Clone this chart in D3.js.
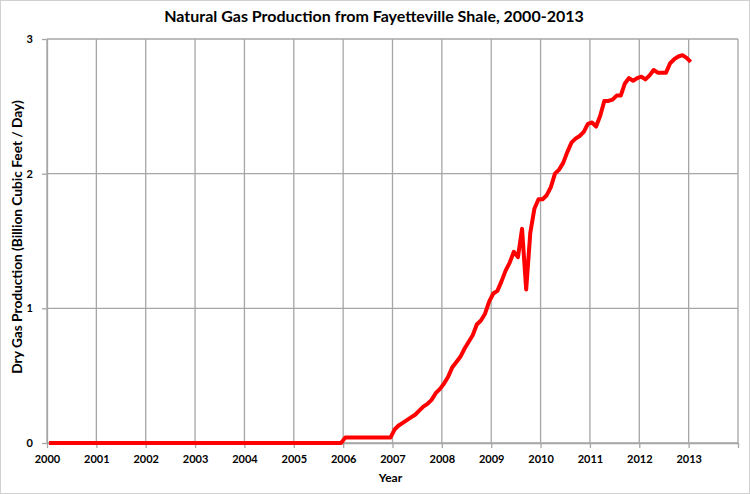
<!DOCTYPE html>
<html>
<head>
<meta charset="utf-8">
<script src="https://cdn.jsdelivr.net/npm/d3@7"></script>
<style>
  body { margin: 0; background: #fff; }
  svg { display: block; font-family: Lato, "Open Sans", sans-serif; }
</style>
</head>
<body>
<svg id="chart" width="750" height="494"></svg>
<script>
// Fayetteville Shale dry gas production -- line chart

var yearTicks = [2000, 2001, 2002, 2003, 2004, 2005, 2006, 2007, 2008, 2009, 2010, 2011, 2012, 2013];
var valueTicks = [0, 1, 2, 3];

// monthly points, "YYYY-MM"
var months = [
  "2000-01", "2005-12", "2006-01", "2006-12",
  "2007-01", "2007-02", "2007-03", "2007-04", "2007-05", "2007-06",
  "2007-07", "2007-08", "2007-09", "2007-10", "2007-11", "2007-12",
  "2008-01", "2008-02", "2008-03", "2008-04", "2008-05", "2008-06",
  "2008-07", "2008-08", "2008-09", "2008-10", "2008-11", "2008-12",
  "2009-01", "2009-02", "2009-03", "2009-04", "2009-05", "2009-06",
  "2009-07", "2009-08", "2009-09", "2009-10", "2009-11", "2009-12",
  "2010-01", "2010-02", "2010-03", "2010-04", "2010-05", "2010-06",
  "2010-07", "2010-08", "2010-09", "2010-10", "2010-11", "2010-12",
  "2011-01", "2011-02", "2011-03", "2011-04", "2011-05", "2011-06",
  "2011-07", "2011-08", "2011-09", "2011-10", "2011-11", "2011-12",
  "2012-01", "2012-02", "2012-03", "2012-04", "2012-05", "2012-06",
  "2012-07", "2012-08", "2012-09", "2012-10", "2012-11", "2012-12",
  "2013-01"
];

// billion cubic feet / day
var production = [
  0, 0, 0.04, 0.04,
  0.10, 0.13, 0.15, 0.17, 0.19, 0.21,
  0.24, 0.27, 0.29, 0.32, 0.37, 0.40,
  0.44, 0.49, 0.56, 0.60, 0.64, 0.70,
  0.75, 0.80, 0.88, 0.91, 0.96, 1.05,
  1.11, 1.13, 1.20, 1.28, 1.34, 1.42,
  1.38, 1.59, 1.14, 1.56, 1.74, 1.81,
  1.81, 1.84, 1.90, 2.00, 2.03, 2.08,
  2.16, 2.23, 2.26, 2.28, 2.31, 2.37,
  2.38, 2.35, 2.43, 2.54, 2.54, 2.55,
  2.58, 2.58, 2.67, 2.71, 2.69, 2.71,
  2.72, 2.70, 2.73, 2.77, 2.75, 2.75,
  2.75, 2.82, 2.85, 2.87, 2.88, 2.86,
  2.83
];

var svg = d3.select("#chart");
var margin = {top: 39, right: 12, bottom: 51, left: 47};
var width = 750 - margin.left - margin.right;
var height = 494 - margin.top - margin.bottom;
var gridColor = "#a6a6a6";

// outer chart frame
svg.append("rect")
  .attr("x", 0.5).attr("y", 0.5)
  .attr("width", 749).attr("height", 493)
  .attr("fill", "none").attr("stroke", "#d0d0d0");

var g = svg.append("g").attr("transform", "translate(" + margin.left + "," + margin.top + ")");

var x = d3.scaleLinear().domain([2000, 2014]).range([0, width]);
var y = d3.scaleLinear().domain([0, 3]).range([height, 0]);

// mid-month position
var toYear = function (s) {
  var p = s.split("-");
  return +p[0] + (+p[1] - 0.5) / 12;
};
var data = months.map(function (m, i) { return {t: toYear(m), v: production[i]}; });

// grid
g.append("g").selectAll("line").data(yearTicks.concat([2014]))
  .join("line")
  .attr("x1", function (d) { return x(d); }).attr("x2", function (d) { return x(d); })
  .attr("y1", 0).attr("y2", height)
  .attr("stroke", gridColor).attr("stroke-width", 1.3);
g.append("g").selectAll("line").data(valueTicks)
  .join("line")
  .attr("x1", 0).attr("x2", width)
  .attr("y1", function (d) { return y(d); }).attr("y2", function (d) { return y(d); })
  .attr("stroke", gridColor).attr("stroke-width", 1.3);

// axes
var xAxis = g.append("g").attr("transform", "translate(0," + height + ")")
  .call(d3.axisBottom(x).tickValues(yearTicks.concat([2014])).tickFormat(function (d) { return d < 2014 ? d : ""; }).tickSize(5).tickSizeOuter(0));
var yAxis = g.append("g")
  .call(d3.axisLeft(y).tickValues(valueTicks).tickFormat(d3.format("d")).tickSize(5).tickSizeOuter(0));

[xAxis, yAxis].forEach(function (a) {
  a.select(".domain").attr("stroke", gridColor).attr("stroke-width", 1.3);
  a.selectAll(".tick line").attr("stroke", gridColor).attr("stroke-width", 1.3);
  a.selectAll("text")
    .attr("fill", "#000")
    .style("font-family", "Lato, 'Open Sans', sans-serif")
    .style("font-size", "11px").style("font-weight", "bold");
});
xAxis.selectAll("text").attr("dy", "1.05em");
yAxis.selectAll("text").attr("x", -14);

// the line
var line = d3.line()
  .x(function (d) { return x(d.t); })
  .y(function (d) { return y(d.v); });

g.append("path")
  .datum(data)
  .attr("d", line)
  .attr("fill", "none")
  .attr("stroke", "#ff0000")
  .attr("stroke-width", 4)
  .attr("stroke-linejoin", "round");

// titles
svg.append("text")
  .attr("x", 374).attr("y", 22)
  .attr("text-anchor", "middle")
  .style("font-size", "16px").style("font-weight", "bold")
  .text("Natural Gas Production from Fayetteville Shale, 2000-2013");

svg.append("text")
  .attr("x", margin.left + width / 2 - 2).attr("y", 482)
  .attr("text-anchor", "middle")
  .style("font-size", "12px").style("font-weight", "bold")
  .text("Year");

svg.append("text")
  .attr("transform", "translate(22,237) rotate(-90)")
  .attr("text-anchor", "middle")
  .style("font-size", "13.7px").style("font-weight", "bold")
  .text("Dry Gas Production (Billion Cubic Feet / Day)");
</script>
</body>
</html>
